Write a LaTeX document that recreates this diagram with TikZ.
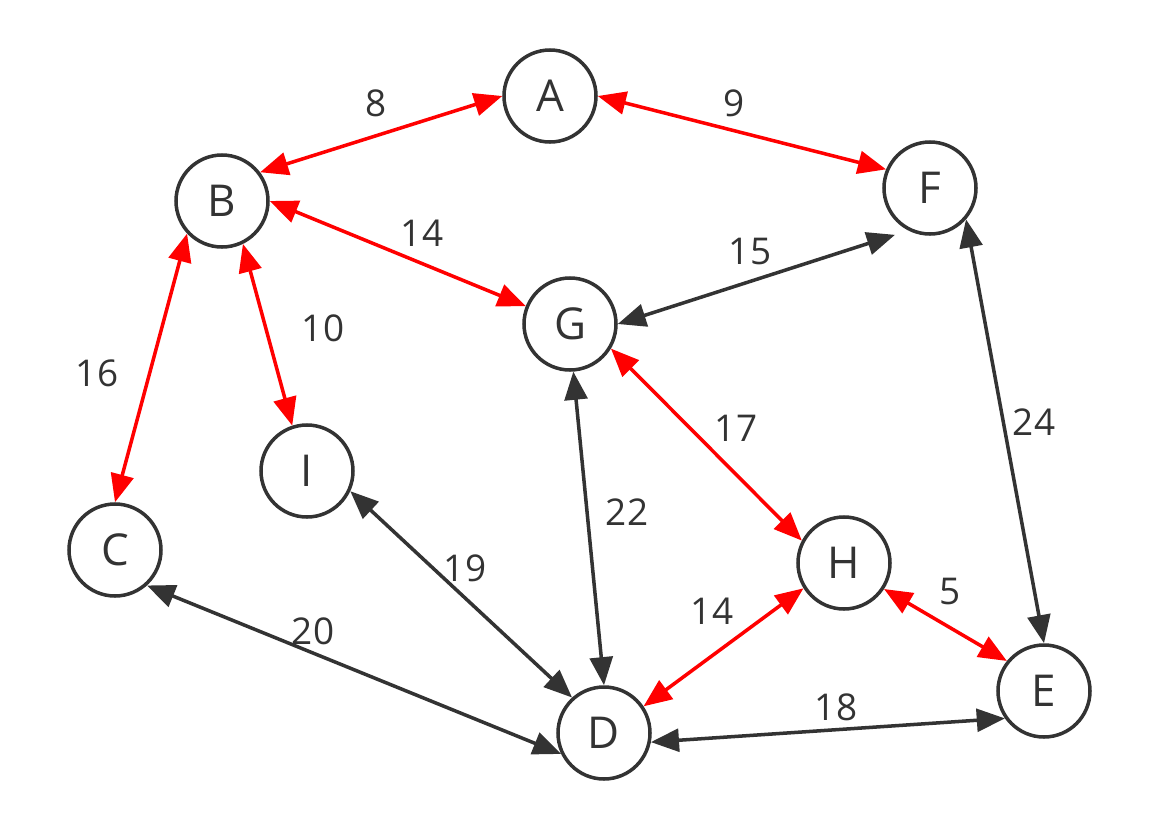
\documentclass[tikz,border=0pt]{standalone}
\usepackage{fontspec}
\setmainfont{Open Sans}
\usepackage{tikz}
\usetikzlibrary{arrows.meta}
\definecolor{cDark}{HTML}{333333}
\definecolor{cRed}{HTML}{FF0000}

\tikzset{
  vtx/.style={circle,draw=cDark,line width=2pt,minimum size=1.84cm,inner sep=0pt,
              text=cDark,font=\fontsize{25}{30}\selectfont},
  wt/.style={text=cDark,font=\fontsize{21}{26}\selectfont},
  redEdge/.style={draw=cRed,line width=2pt,
                  {Triangle[length=16pt,width=13pt]}-{Triangle[length=16pt,width=13pt]}},
  darkEdge/.style={draw=cDark,line width=2pt,
                  {Triangle[length=16pt,width=13pt]}-{Triangle[length=16pt,width=13pt]}}
}

\begin{document}
\begin{tikzpicture}
    \useasboundingbox (0,0) rectangle (23.08,-16.56);
    % vertices
    \node[vtx] (A) at (11.00,-1.92) {A};
    \node[vtx] (B) at (4.44,-4.02) {B};
    \node[vtx] (C) at (2.30,-11.00) {C};
    \node[vtx] (D) at (12.08,-14.66) {D};
    \node[vtx] (E) at (20.88,-13.82) {E};
    \node[vtx] (F) at (18.60,-3.76) {F};
    \node[vtx] (G) at (11.40,-6.48) {G};
    \node[vtx] (H) at (16.88,-11.26) {H};
    \node[vtx] (I) at (6.14,-9.42) {I};
    % edges
    \draw[redEdge] (B.37) -- (A.180);
    \draw[redEdge] (A.0) -- (F.157);
    \draw[redEdge] (B.0) -- (G.158);
    \draw[darkEdge,shorten >=0.28cm] (G.0) -- (F.243);
    \draw[redEdge] (B.223) -- (C.90);
    \draw[redEdge] (B.296) -- (I.108);
    \draw[redEdge] (G.329) -- (H.152);
    \draw[darkEdge] (G.274) -- (D.90);
    \draw[darkEdge] (F.319) -- (E.90);
    \draw[darkEdge] (I.335) -- (D.132);
    \draw[darkEdge] (C.312) -- (D.206);
    \draw[redEdge] (H.212) -- (D.34);
    \draw[redEdge] (H.327) -- (E.141);
    \draw[darkEdge] (D.349) -- (E.215);
    % weights
    \node[wt] (wAB) at (7.52,-2.06) {8};
    \node[wt] (wAF) at (14.68,-2.06) {9};
    \node[wt] (wBG) at (8.44,-4.66) {14};
    \node[wt] (wFG) at (15.00,-5.04) {15};
    \node[wt] (wBC) at (1.94,-7.46) {16};
    \node[wt] (wBI) at (6.46,-6.56) {10};
    \node[wt] (wGH) at (14.72,-8.56) {17};
    \node[wt] (wGD) at (12.54,-10.24) {22};
    \node[wt] (wFE) at (20.68,-8.44) {24};
    \node[wt] (wID) at (9.30,-11.36) {19};
    \node[wt] (wCD) at (6.26,-12.62) {20};
    \node[wt] (wHD) at (14.24,-12.22) {14};
    \node[wt] (wHE) at (19.00,-11.82) {5};
    \node[wt] (wDE) at (16.72,-14.14) {18};
  \end{tikzpicture}
\end{document}
